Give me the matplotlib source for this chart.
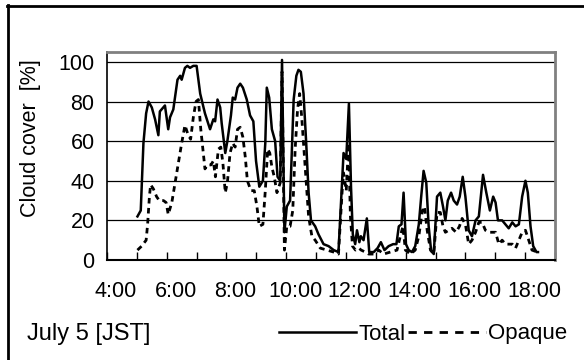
import matplotlib
matplotlib.use("Agg")
import matplotlib.pyplot as plt
import matplotlib.transforms as mtransforms
from matplotlib.lines import Line2D

plt.rcParams['font.family'] = ['Liberation Sans', 'DejaVu Sans']

# time in decimal hours (JST), cloud cover in %
total_t = [5.02, 5.13, 5.22, 5.31, 5.39, 5.50, 5.61, 5.72, 5.77, 5.94, 6.05, 6.11,
           6.22, 6.36, 6.45, 6.50, 6.61, 6.69, 6.78, 6.89, 7.00, 7.12, 7.28, 7.45,
           7.56, 7.62, 7.70, 7.79, 7.84, 7.96, 8.03, 8.15, 8.21, 8.29, 8.37, 8.46,
           8.55, 8.68, 8.79, 8.90, 8.99, 9.10, 9.22, 9.30, 9.35, 9.43, 9.52, 9.63,
           9.71, 9.80, 9.86, 9.94, 10.02, 10.13, 10.25, 10.34, 10.41, 10.49, 10.58,
           10.67, 10.75, 10.83, 10.97, 11.08, 11.25, 11.42, 11.59, 11.75, 11.87,
           11.92, 12.01, 12.10, 12.17, 12.23, 12.31, 12.37, 12.45, 12.50, 12.59,
           12.70, 12.78, 12.93, 13.06, 13.17, 13.29, 13.43, 13.58, 13.69, 13.77,
           13.86, 13.93, 14.01, 14.10, 14.21, 14.32, 14.44, 14.52, 14.60, 14.69,
           14.77, 14.85, 14.94, 15.05, 15.16, 15.25, 15.33, 15.41, 15.52, 15.61,
           15.72, 15.81, 15.91, 16.00, 16.11, 16.22, 16.34, 16.45, 16.59, 16.70,
           16.82, 16.93, 17.01, 17.09, 17.23, 17.34, 17.45, 17.57, 17.68, 17.79,
           17.90, 18.01, 18.09, 18.18, 18.27, 18.38, 18.43]
total_v = [22, 25, 59, 74, 80, 77, 71, 63, 75, 78, 66, 72,
           76, 91, 93, 91, 97, 98, 97, 98, 98, 84, 74, 66,
           71, 70, 81, 77, 69, 54, 60, 73, 82, 81, 87, 89,
           87, 81, 73, 70, 50, 37, 40, 59, 87, 82, 66, 60,
           42, 40, 101, 14, 27, 30, 81, 93, 96, 95, 84,
           59, 34, 20, 17, 13, 8, 7, 5, 4, 39,
           54, 51, 79, 37, 13, 8, 15, 9, 12, 10,
           21, 4, 4, 6, 9, 5, 7, 8, 8, 17,
           18, 34, 8, 5, 4, 7, 18, 32, 45, 39,
           17, 5, 3, 32, 34, 27, 20, 30, 34, 30,
           28, 32, 42, 32, 15, 12, 20, 22, 43, 34,
           25, 32, 29, 20, 20, 18, 16, 19, 17, 18,
           32, 40, 34, 17, 7, 4, 4]

opaque_t = [5.02, 5.16, 5.31, 5.36, 5.42, 5.46, 5.55, 5.66, 5.75, 5.89, 5.98, 6.05,
            6.17, 6.28, 6.39, 6.50, 6.61, 6.72, 6.80, 6.89, 6.98, 7.06, 7.14, 7.21,
            7.28, 7.36, 7.48, 7.56, 7.63, 7.73, 7.81, 7.88, 7.96, 8.03, 8.12, 8.21,
            8.29, 8.37, 8.46, 8.55, 8.63, 8.70, 8.82, 8.93, 9.02, 9.10, 9.22, 9.30,
            9.38, 9.45, 9.52, 9.60, 9.69, 9.80, 9.86, 9.94, 10.02, 10.13, 10.22,
            10.30, 10.38, 10.45, 10.52, 10.58, 10.67, 10.75, 10.86, 10.97, 11.14,
            11.36, 11.59, 11.75, 11.87, 11.92, 12.01, 12.09, 12.15, 12.22, 12.32,
            12.43, 12.51, 12.65, 12.76, 12.93, 13.10, 13.26, 13.49, 13.71, 13.82,
            13.91, 13.99, 14.16, 14.32, 14.44, 14.56, 14.63, 14.72, 14.83, 14.94,
            15.05, 15.16, 15.25, 15.33, 15.44, 15.55, 15.69, 15.80, 15.89, 16.00,
            16.11, 16.22, 16.34, 16.45, 16.56, 16.67, 16.78, 16.89, 17.01, 17.12,
            17.23, 17.34, 17.45, 17.57, 17.68, 17.79, 17.90, 18.01, 18.12, 18.23,
            18.41]
opaque_v = [5, 7, 10, 18, 32, 38, 36, 32, 30, 30, 29, 23,
            29, 39, 49, 59, 68, 63, 61, 72, 80, 81, 66, 56,
            46, 48, 48, 50, 42, 56, 57, 49, 34, 39, 54, 59,
            57, 66, 67, 62, 52, 40, 35, 35, 27, 17, 18, 35,
            56, 54, 47, 42, 34, 39, 95, 5, 17, 17, 25,
            56, 76, 84, 72, 59, 39, 22, 12, 10, 6,
            5, 4, 3, 34, 44, 35, 59, 22, 7, 5,
            6, 5, 4, 3, 3, 5, 3, 4, 5, 12,
            17, 5, 3, 5, 12, 25, 27, 15, 5, 3,
            24, 24, 17, 14, 15, 16, 14, 17, 21, 18,
            8, 10, 14, 19, 19, 15, 14, 14, 14, 8,
            10, 8, 8, 8, 6, 10, 14, 15, 10, 5,
            4]

hour_ticks = list(range(4, 20))
hour_labels = ['%d:00' % h if h % 2 == 0 and h < 19 else '' for h in hour_ticks]
y_ticks = [0, 20, 40, 60, 80, 100]

fig = plt.figure(figsize=(5.84, 3.6), dpi=100)
ax = fig.add_axes([107/584, 100/360, 448/584, 208/360])

ax.plot(total_t, total_v, color='black', lw=1.8, solid_joinstyle='round')
ax.plot(opaque_t, opaque_v, color='black', lw=2.0, dashes=(2, 1.6))

ax.set_xlim(4, 19)
ax.set_ylim(0, 105)
ax.set_yticks(y_ticks)
ax.set_xticks(hour_ticks)
ax.set_xticklabels(hour_labels)
ax.yaxis.grid(True, color='black', lw=0.9)
ax.set_axisbelow(True)

ax.tick_params(axis='x', direction='in', length=6, width=1, pad=15, labelsize=15.5)
ax.tick_params(axis='y', length=0, pad=9, labelsize=15.5)
offset = mtransforms.ScaledTranslation(9/100, 0, fig.dpi_scale_trans)
for lab in ax.get_xticklabels():
    lab.set_transform(lab.get_transform() + offset)

for s in ['top', 'right']:
    ax.spines[s].set_color('#808080')
    ax.spines[s].set_linewidth(2)
ax.spines['left'].set_color('black')
ax.spines['bottom'].set_color('black')
ax.spines['left'].set_linewidth(1.2)
ax.spines['bottom'].set_linewidth(1.5)

fig.text(31/584, 1 - 138/360, 'Cloud cover  [%]', rotation=90, ha='center', va='center',
         fontsize=15.5)
fig.text(27/584, 1 - 334/360, 'July 5 [JST]', ha='left', va='center', fontsize=17)

handles = [Line2D([], [], color='black', lw=1.8),
           Line2D([], [], color='black', lw=2.0, dashes=(3, 2.6))]
fig.legend(handles, ['Total', 'Opaque'], loc='center right', ncol=2,
           bbox_to_anchor=(567/584, 1 - 334/360), frameon=False, fontsize=16,
           handlelength=3.5, handletextpad=0.1, columnspacing=0.1, borderpad=0,
           borderaxespad=0)

# outer chart-area frame (right and bottom edges fall outside the image)
fig.add_artist(Line2D([7.5/584, 7.5/584], [1 - 5/360, 0], color='black', lw=2,
                      transform=fig.transFigure))
fig.add_artist(Line2D([7/584, 1], [1 - 5.5/360, 1 - 5.5/360], color='black', lw=2,
                      transform=fig.transFigure))

fig.savefig('out.png', dpi=100)
